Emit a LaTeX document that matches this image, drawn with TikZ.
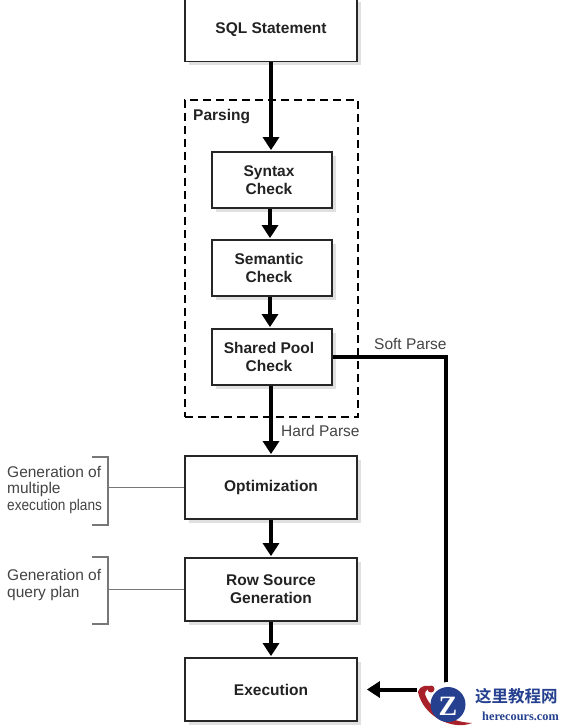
\documentclass[tikz,border=0pt]{standalone}
\usepackage{fontspec}
\usepackage{graphicx}
\setmainfont{Liberation Sans}
\newfontfamily\cjkwm{Noto Sans CJK SC}[BoldFont={* Bold}]
\newfontfamily\serifwm{Liberation Serif}
\usetikzlibrary{shadows,arrows.meta,calc}
\definecolor{txt}{HTML}{222222}
\definecolor{grey}{HTML}{444444}
\definecolor{brk}{HTML}{777777}
\definecolor{wmblue}{HTML}{25408F}
\definecolor{wmred}{HTML}{A8202A}
\newcommand\rk{\hspace*{6pt}}
\tikzset{
  x=1pt,y=-1pt,
  stepbox/.style={draw=black!85,line width=1.8pt,fill=white,align=center,font=\fontsize{15.5}{18}\selectfont\bfseries,text=txt,
    drop shadow={shadow xshift=4pt,shadow yshift=-4pt,fill=black!12,opacity=1}},
  wide/.style={stepbox,minimum width=172pt,minimum height=63pt,inner sep=0pt},
  narrow/.style={stepbox,minimum width=120pt,minimum height=56pt,inner sep=0pt},
  flow/.style={line width=4pt,draw=black,-{Triangle[length=13pt,width=16pt]},shorten >=1pt},
  bracket/.style={draw=brk,line width=1.2pt},
  note/.style={align=left,anchor=north west,inner sep=0pt,font=\fontsize{15.5}{16.5}\selectfont,text=grey},
  lab/.style={inner sep=0pt,font=\fontsize{15.5}{16}\selectfont,text=grey},
}
\begin{document}
\begin{tikzpicture}
\useasboundingbox[fill=white] (0,0) rectangle (564,727);
% dashed frame
\node[draw=black,line width=1.5pt,dash pattern=on 8pt off 5pt,minimum width=173pt,minimum height=317pt,inner sep=0pt] (parsing) at (271.5,258.5) {};
\node[anchor=west,inner sep=0pt,font=\fontsize{15.5}{16}\selectfont\bfseries,text=txt] (parsinglab) at (193,117) {Parsing};
% boxes
\node[wide] (sql) at (271,30) {SQL Statement};
\node[narrow] (syntax) at (272,180) {Syntax\rk\\Check\rk};
\node[narrow] (semantic) at (272,268) {Semantic\rk\\Check\rk};
\node[narrow] (shared) at (272,357) {Shared Pool\rk\\Check\rk};
\node[wide] (opt) at (271,487.5) {Optimization};
\node[wide] (rowsrc) at (271,589.5) {Row Source\\Generation};
\node[wide] (exec) at (271,689.5) {Execution};
% flow
\draw[flow] (sql.south) -- (sql.south |- syntax.north);
\draw[flow] ($(syntax.south)+(-2,0)$) -- ($(semantic.north)+(-2,0)$);
\draw[flow] ($(semantic.south)+(-2,0)$) -- ($(shared.north)+(-2,0)$);
\draw[flow] ($(shared.south)+(-1,0)$) -- ($(opt.north)$);
\draw[flow] (opt.south) -- (rowsrc.north);
\draw[flow] (rowsrc.south) -- (exec.north);
\coordinate (corner) at (446,357);
\draw[flow,shorten >=-9pt] (shared.east) -- (corner) -- (corner |- exec.east) -- ($(exec.east)+(18,0)$);
% labels
\node[lab,anchor=west] (soft) at (374,344) {Soft Parse};
\node[lab,anchor=west] (hard) at (281,431) {Hard Parse};
% brackets
\coordinate (b1a) at (92,457); \coordinate (b1b) at (108,457); \coordinate (b1c) at (108,525); \coordinate (b1d) at (92,525);
\coordinate (b2a) at (92,557); \coordinate (b2b) at (108,557); \coordinate (b2c) at (108,624); \coordinate (b2d) at (92,624);
\draw[bracket] (b1a) -- (b1b) -- (b1c) -- (b1d);
\draw[bracket] (b2a) -- (b2b) -- (b2c) -- (b2d);
\draw[bracket] (opt.west -| b1b) -- (opt.west);
\draw[bracket] (rowsrc.west -| b2b) -- (rowsrc.west);
\node[note] (n1) at (7,466) {Generation of\\multiple\\\scalebox{0.88}[1]{execution plans}};
\node[note] (n2) at (7,569.5) {Generation of\\query plan};
% watermark
\fill[white] (448,705) circle (23);
\fill[white] (417,684) rectangle (430,700);
\fill[wmred] (418,692) .. controls (423,716) and (452,731) .. (472,723) .. controls (448,722) and (429,708) .. (425,694) .. controls (425,690) and (429,688) .. (433,688) .. controls (428,684) and (420,685) .. (418,692) -- cycle;
\fill[wmred] (431,689) circle (3.5);
\fill[wmblue] (448,704.5) circle (17.5);
\node[inner sep=0pt,text=white,font=\fontsize{28}{28}\selectfont\bfseries\serifwm] (wmz) at (448,706) {Z};
\node[inner sep=0pt,anchor=west,text=wmblue,font=\fontsize{16.5}{16.5}\selectfont\bfseries\cjkwm] (wmcn) at (475,696) {这里教程网};
\node[inner sep=0pt,anchor=west,text=wmblue,font=\fontsize{12.3}{12.3}\selectfont\bfseries\serifwm] (wmen) at (482,716) {herecours.com};
\end{tikzpicture}
\end{document}
